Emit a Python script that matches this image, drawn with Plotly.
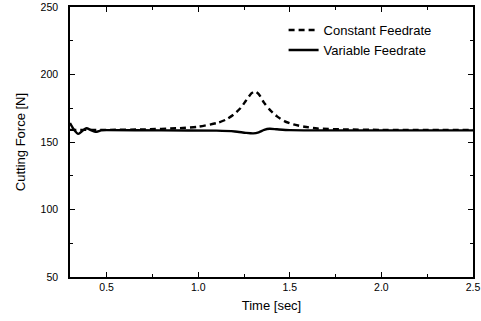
import plotly.graph_objects as go

time_const = [0.30, 0.50, 0.70, 0.90, 1.00, 1.10, 1.15, 1.19, 1.23, 1.26, 1.29, 1.31, 1.33, 1.36, 1.39, 1.43, 1.47, 1.52, 1.58, 1.65, 1.80, 2.00, 2.50]
force_const = [159.0, 159.0, 159.3, 160.3, 161.3, 164.0, 166.5, 170.0, 175.0, 180.5, 186.0, 187.5, 185.5, 179.0, 174.0, 169.0, 165.5, 163.0, 161.3, 160.0, 159.3, 159.0, 159.0]

time_var = [0.30, 0.32, 0.345, 0.37, 0.39, 0.415, 0.44, 0.47, 0.50, 0.80, 1.10, 1.20, 1.26, 1.30, 1.33, 1.36, 1.39, 1.43, 1.50, 2.00, 2.50]
force_var = [164.0, 159.5, 156.0, 158.5, 160.2, 158.8, 157.5, 158.6, 158.8, 158.6, 158.4, 157.8, 156.8, 156.4, 157.2, 159.0, 159.8, 159.4, 158.8, 158.6, 158.6]

x_ticks = [0.5, 1.0, 1.5, 2.0, 2.5]
x_tick_labels = ["0.5", "1.0", "1.5", "2.0", "2.5"]
y_ticks = [50, 100, 150, 200, 250]

fig = go.Figure()
fig.add_trace(go.Scatter(x=time_const, y=force_const, mode="lines", name="Constant Feedrate",
                         line=dict(color="black", width=2.4, dash="6px,4px", shape="spline", smoothing=0.6)))
fig.add_trace(go.Scatter(x=time_var, y=force_var, mode="lines", name="Variable Feedrate",
                         line=dict(color="black", width=2.4, shape="spline", smoothing=0.6)))

axis_common = dict(showline=True, linecolor="black", linewidth=1.5, mirror="allticks",
                   ticks="inside", ticklen=5, tickwidth=1, tickcolor="black",
                   showgrid=False, zeroline=False, automargin=False,
                   tickfont=dict(family="Liberation Sans, Arial, sans-serif", size=10.5, color="black"))

fig.update_layout(
    width=481, height=321,
    margin=dict(l=70, r=8, t=7, b=44),
    plot_bgcolor="white", paper_bgcolor="white",
    font=dict(family="Liberation Sans, Arial, sans-serif", color="black"),
    xaxis=dict(range=[0.3, 2.5], tickvals=x_ticks, ticktext=x_tick_labels,
               minor=dict(ticks="inside", ticklen=3, dtick=0.25, tickcolor="black"),
               title=dict(text="Time [sec]", font=dict(size=13), standoff=9),
               **axis_common),
    yaxis=dict(range=[50, 250], tickvals=y_ticks, ticklabelstandoff=8,
               minor=dict(ticks="inside", ticklen=3, dtick=25, tickcolor="black"),
               title=dict(text="Cutting Force [N]", font=dict(size=13), standoff=12),
               **axis_common),
    legend=dict(x=0.53, y=0.97, xanchor="left", yanchor="top", bgcolor="rgba(0,0,0,0)",
                font=dict(size=13), itemwidth=30, tracegroupgap=0),
    showlegend=True,
)

fig.write_html("out.html", config={"displayModeBar": False},
               post_script="document.body.style.margin='0';document.body.style.padding='0';")
